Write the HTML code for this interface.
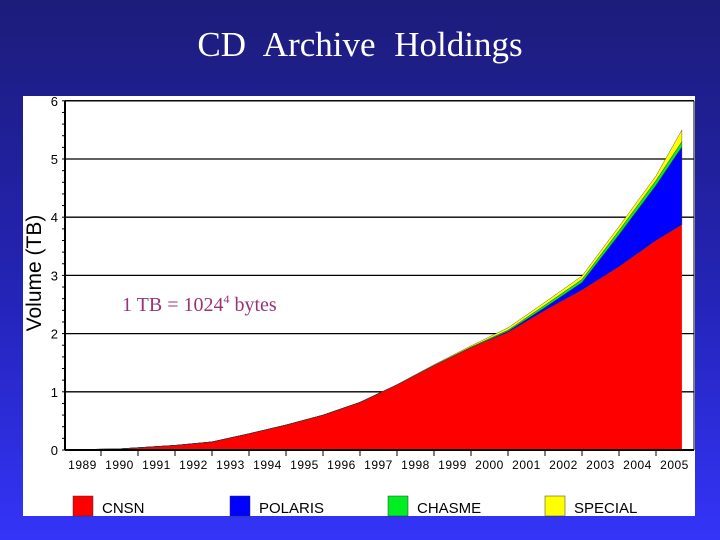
<!DOCTYPE html>
<html><head><meta charset="utf-8"><style>
html,body{margin:0;padding:0}
body{width:720px;height:540px;overflow:hidden;background:linear-gradient(#1c1c7a,#2424b8 55%,#3434f8);position:relative;font-family:"Liberation Sans",sans-serif}
#title{position:absolute;top:27px;left:0;width:720px;text-align:center;color:#fff;font-family:"Liberation Serif",serif;font-size:35px;line-height:1;word-spacing:10px}
</style></head><body>
<div id="title">CD Archive Holdings</div>
<svg id="chart" width="720" height="540" style="position:absolute;left:0;top:0">
<rect x="23" y="96" width="672" height="420" fill="#fff"/>
<text transform="translate(41,273) rotate(-90)" text-anchor="middle" font-size="21" fill="#000">Volume (TB)</text>
<g id="grid"></g><g id="areas"></g><g id="axes"></g>
<text x="122" y="311" font-family="Liberation Serif,serif" font-size="20" fill="#993377">1 TB = 1024<tspan font-size="12" dy="-8">4</tspan><tspan dy="8"> bytes</tspan></text>
<g id="legend"></g>
</svg>
<script>
const years=[1989.6,1990.5,1992,1993,1994,1995,1996,1997,1998,1999,2000,2001,2002,2003,2004,2005,2005.7];
const cnsn=[0.01,0.02,0.08,0.14,0.28,0.43,0.6,0.82,1.12,1.45,1.76,2.02,2.4,2.75,3.15,3.6,3.87];
const polaris=[0,0,0,0,0,0,0,0,0,0,0,0.02,0.05,0.13,0.55,0.95,1.34];
const chasme=[0,0,0,0,0,0,0,0,0,0.005,0.01,0.02,0.04,0.05,0.07,0.08,0.09];
const special=[0,0,0,0,0,0,0,0,0.005,0.01,0.02,0.04,0.05,0.06,0.07,0.08,0.2];
const yTicks=[0,1,2,3,4,5,6];
const xLabels=["1989","1990","1991","1992","1993","1994","1995","1996","1997","1998","1999","2000","2001","2002","2003","2004","2005"];
const seriesNames=["CNSN","POLARIS","CHASME","SPECIAL"];
const seriesColors=["#ff0000","#0000ff","#00ee22","#ffff00"];
const NS="http://www.w3.org/2000/svg";
const X0=65,XR=694,Y0=450,UNIT=58.2;
function xs(t){return 64+37*(t-1989);}
function ys(v){return Y0-UNIT*v;}
function mk(tag,attrs,parent){const e=document.createElementNS(NS,tag);for(const k in attrs)e.setAttribute(k,attrs[k]);parent.appendChild(e);return e;}
const grid=document.getElementById('grid'),axes=document.getElementById('axes'),areas=document.getElementById('areas'),legend=document.getElementById('legend');
yTicks.forEach(v=>{
  if(v>0){const l=mk('line',{x1:X0,x2:XR,y1:ys(v),y2:ys(v),stroke:'#000','stroke-width':1.3},grid);
  
  }
  const t=mk('text',{x:58,y:ys(v)+5,'text-anchor':'end','font-size':13,fill:'#000'},axes);t.textContent=v;
  
  
});
for(let v=0;v<=6.001;v+=0.2){mk('line',{x1:X0-3,x2:X0,y1:ys(v),y2:ys(v),stroke:'#000'},axes);}
const series=[cnsn,polaris,chasme,special];
let base=years.map(()=>0);
series.forEach((s,i)=>{
  const top=base.map((b,j)=>b+s[j]);
  let d='M'+years.map((t,j)=>xs(t)+','+ys(top[j])).join('L');
  for(let j=years.length-1;j>=0;j--)d+='L'+xs(years[j])+','+ys(base[j]);
  d+='Z';
  const p=mk('path',{d:d,fill:seriesColors[i],stroke:i==0?'none':'#333','stroke-width':0.4},areas);
  
  
  base=top;
});
const ya=mk('line',{x1:X0,x2:X0,y1:ys(6),y2:Y0,stroke:'#000','stroke-width':2},axes);


const xa=mk('line',{x1:X0,x2:XR,y1:Y0,y2:Y0,stroke:'#000','stroke-width':2},axes);


mk('line',{x1:X0,x2:XR,y1:ys(6),y2:ys(6),stroke:'#000','stroke-width':1.3},axes);
mk('line',{x1:XR,x2:XR,y1:ys(6),y2:Y0,stroke:'#000','stroke-width':1},axes);
xLabels.forEach((lab,i)=>{
  const t=mk('text',{x:xs(1989+i+0.5),y:469,'text-anchor':'middle','font-size':12,'letter-spacing':0.5,fill:'#000'},axes);t.textContent=lab;
  
  
  if(i>0)mk('line',{x1:xs(1989+i),x2:xs(1989+i),y1:Y0,y2:Y0+6,stroke:'#000'},axes);
});
const lx=[73,230,388,545];
seriesNames.forEach((n,i)=>{
  const g=mk('g',{},legend);
  
  
  mk('rect',{x:lx[i],y:496,width:20,height:20,fill:seriesColors[i],stroke:'#333','stroke-width':0.5},g);
  const t=mk('text',{x:lx[i]+29,y:513,'font-size':15,fill:'#000'},g);t.textContent=n;
});
</script>
</body></html>
